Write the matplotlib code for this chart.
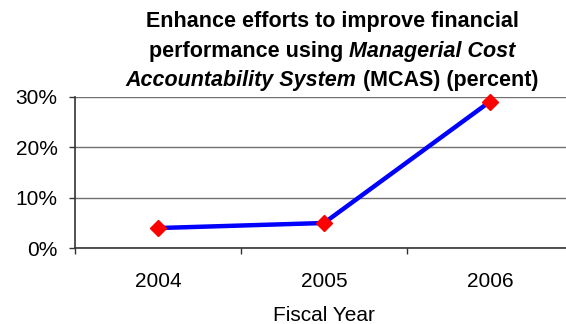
import matplotlib
matplotlib.use("Agg")
import matplotlib.pyplot as plt
from matplotlib.ticker import FixedLocator, NullFormatter, FixedFormatter

# Data
years = ["2004", "2005", "2006"]
mcas_percent = [4, 5, 29]
y_ticks = [0, 10, 20, 30]
y_tick_labels = ["0%", "10%", "20%", "30%"]

W, H = 566, 324
fig = plt.figure(figsize=(W / 100, H / 100), dpi=100)
plt.rcParams["font.family"] = ["Liberation Sans", "DejaVu Sans"]

# axes placed in pixel terms
left_px, right_px, top_px, bottom_px = 75, 573, 96.5, 248.3
ax = fig.add_axes([left_px / W, 1 - bottom_px / H,
                   (right_px - left_px) / W, (bottom_px - top_px) / H])

x = list(range(1, len(years) + 1))
ax.plot(x, mcas_percent, color="#0000FF", lw=3.2, zorder=3,
        marker="D", markersize=8.5, markerfacecolor="#FF0000",
        markeredgecolor="#FF0000", clip_on=False)

ax.set_xlim(0.5, len(years) + 0.5)
ax.set_ylim(0, 30)

# y axis
ax.set_yticks(y_ticks)
ax.set_yticklabels(y_tick_labels)
ax.yaxis.grid(True, color="#707070", lw=1)
ax.set_axisbelow(True)
ax.tick_params(axis="y", direction="out", length=4.5, width=1, color="#333333",
               labelsize=15, pad=8)

# x axis: tick marks between categories, labels at category centres
ax.xaxis.set_major_locator(FixedLocator([i + 0.5 for i in range(len(years) + 1)]))
ax.xaxis.set_major_formatter(NullFormatter())
ax.xaxis.set_minor_locator(FixedLocator(x))
ax.xaxis.set_minor_formatter(FixedFormatter(years))
ax.tick_params(axis="x", which="major", direction="out", length=4.5, width=1,
               color="#333333")
ax.tick_params(axis="x", which="minor", length=0, labelsize=15, pad=17)
ax.set_xlabel("Fiscal Year", fontsize=15, labelpad=11)

for side in ("top", "right"):
    ax.spines[side].set_visible(False)
for side in ("left", "bottom"):
    ax.spines[side].set_color("#333333")
    ax.spines[side].set_linewidth(1.2)

# Three-line title with italic segments
title_lines = [
    [("Enhance efforts to improve financial", "normal")],
    [("performance using ", "normal"), ("Managerial Cost", "italic")],
    [("Accountability System", "italic"), (" (MCAS) (percent)", "normal")],
]
baselines_px = [27, 57, 86]
center_px = 332
title_size = 15.5

renderer = fig.canvas.get_renderer()
for line, base in zip(title_lines, baselines_px):
    pieces = []
    for txt, style in line:
        t = fig.text(0, 1 - base / H, txt, fontsize=title_size, fontweight="bold",
                     fontstyle=style, va="baseline", ha="left")
        pieces.append(t)
    widths = [p.get_window_extent(renderer).width for p in pieces]
    total = sum(widths)
    xpos = center_px - total / 2
    for p, w in zip(pieces, widths):
        p.set_x(xpos / W)
        xpos += w

fig.savefig("out.png", dpi=100)
